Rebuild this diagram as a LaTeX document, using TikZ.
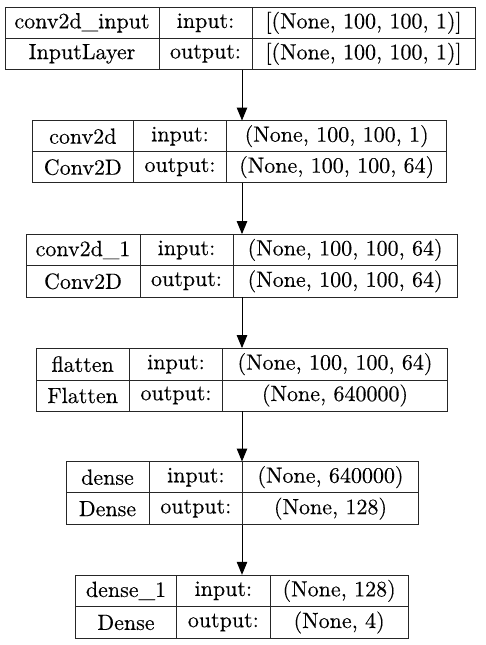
\documentclass[tikz,border=0pt]{standalone}
\usepackage{fontspec}
\newfontfamily\reffont{lmroman10-regular.otf}[FakeBold=0.25]
\usetikzlibrary{arrows.meta}
\tikzset{
  cell/.style={draw=black!85, line width=1pt, inner sep=0pt, rectangle, font=\reffont\fontsize{22}{26}\selectfont},
  frame/.style={inner sep=0pt, rectangle},
  arr/.style={draw=black, line width=1pt, -{Triangle[width=10.5pt,length=13pt]}}
}
% name, x1, y1, x2, y2, text
\newcommand\mycell[6]{\node[cell, minimum width={#4-#2}, minimum height={#5-#3}] (#1) at ({(#2+#4)/2},{-(#3+#5)/2}) {#6};}
\newcommand\myframe[5]{\node[frame, minimum width={#4-#2}, minimum height={#5-#3}] (#1) at ({(#2+#4)/2},{-(#3+#5)/2}) {};}
\begin{document}
\begin{tikzpicture}[x=1pt,y=1pt]
\useasboundingbox (0,0) rectangle (485,-645);
\coordinate (axis) at (242,0);
% layer 1
\myframe{L1}{5}{7.3}{475}{69.3}
\mycell{L1a}{5}{7.3}{159}{38.3}{conv2d\_input}
\mycell{L1b}{5}{38.3}{159}{69.3}{InputLayer}
\mycell{L1c}{159}{7.3}{252}{38.3}{input:}
\mycell{L1d}{159}{38.3}{252}{69.3}{output:}
\mycell{L1e}{252}{7.3}{475}{38.3}{[(None, 100, 100, 1)]}
\mycell{L1f}{252}{38.3}{475}{69.3}{[(None, 100, 100, 1)]}
% layer 2
\myframe{L2}{32.3}{120.7}{446.7}{182.7}
\mycell{L2a}{32.3}{120.7}{133.3}{151.7}{conv2d}
\mycell{L2b}{32.3}{151.7}{133.3}{182.7}{Conv2D}
\mycell{L2c}{133.3}{120.7}{226.7}{151.7}{input:}
\mycell{L2d}{133.3}{151.7}{226.7}{182.7}{output:}
\mycell{L2e}{226.7}{120.7}{446.7}{151.7}{(None, 100, 100, 1)}
\mycell{L2f}{226.7}{151.7}{446.7}{182.7}{(None, 100, 100, 64)}
% layer 3
\myframe{L3}{26}{234.3}{457.3}{297}
\mycell{L3a}{26}{234.3}{140}{265.6}{conv2d\_1}
\mycell{L3b}{26}{265.6}{140}{297}{Conv2D}
\mycell{L3c}{140}{234.3}{233}{265.6}{input:}
\mycell{L3d}{140}{265.6}{233}{297}{output:}
\mycell{L3e}{233}{234.3}{457.3}{265.6}{(None, 100, 100, 64)}
\mycell{L3f}{233}{265.6}{457.3}{297}{(None, 100, 100, 64)}
% layer 4
\myframe{L4}{36}{348.3}{447.3}{411}
\mycell{L4a}{36}{348.3}{129.3}{380}{flatten}
\mycell{L4b}{36}{380}{129.3}{411}{Flatten}
\mycell{L4c}{129.3}{348.3}{222.7}{380}{input:}
\mycell{L4d}{129.3}{380}{222.7}{411}{output:}
\mycell{L4e}{222.7}{348.3}{447.3}{380}{(None, 100, 100, 64)}
\mycell{L4f}{222.7}{380}{447.3}{411}{(None, 640000)}
% layer 5
\myframe{L5}{66}{461.7}{418.3}{524.7}
\mycell{L5a}{66}{461.7}{149}{492.7}{dense}
\mycell{L5b}{66}{492.7}{149}{524.7}{Dense}
\mycell{L5c}{149}{461.7}{242.7}{492.7}{input:}
\mycell{L5d}{149}{492.7}{242.7}{524.7}{output:}
\mycell{L5e}{242.7}{461.7}{418.3}{492.7}{(None, 640000)}
\mycell{L5f}{242.7}{492.7}{418.3}{524.7}{(None, 128)}
% layer 6
\myframe{L6}{75.3}{575}{408.3}{638.3}
\mycell{L6a}{75.3}{575}{176.7}{606.7}{dense\_1}
\mycell{L6b}{75.3}{606.7}{176.7}{638.3}{Dense}
\mycell{L6c}{176.7}{575}{270}{606.7}{input:}
\mycell{L6d}{176.7}{606.7}{270}{638.3}{output:}
\mycell{L6e}{270}{575}{408.3}{606.7}{(None, 128)}
\mycell{L6f}{270}{606.7}{408.3}{638.3}{(None, 4)}
% arrows
\draw[arr] (L1.south -| axis) -- (L2.north -| axis);
\draw[arr] (L2.south -| axis) -- (L3.north -| axis);
\draw[arr] (L3.south -| axis) -- (L4.north -| axis);
\draw[arr] (L4.south -| axis) -- (L5.north -| axis);
\draw[arr] (L5.south -| axis) -- (L6.north -| axis);
\end{tikzpicture}
\end{document}
